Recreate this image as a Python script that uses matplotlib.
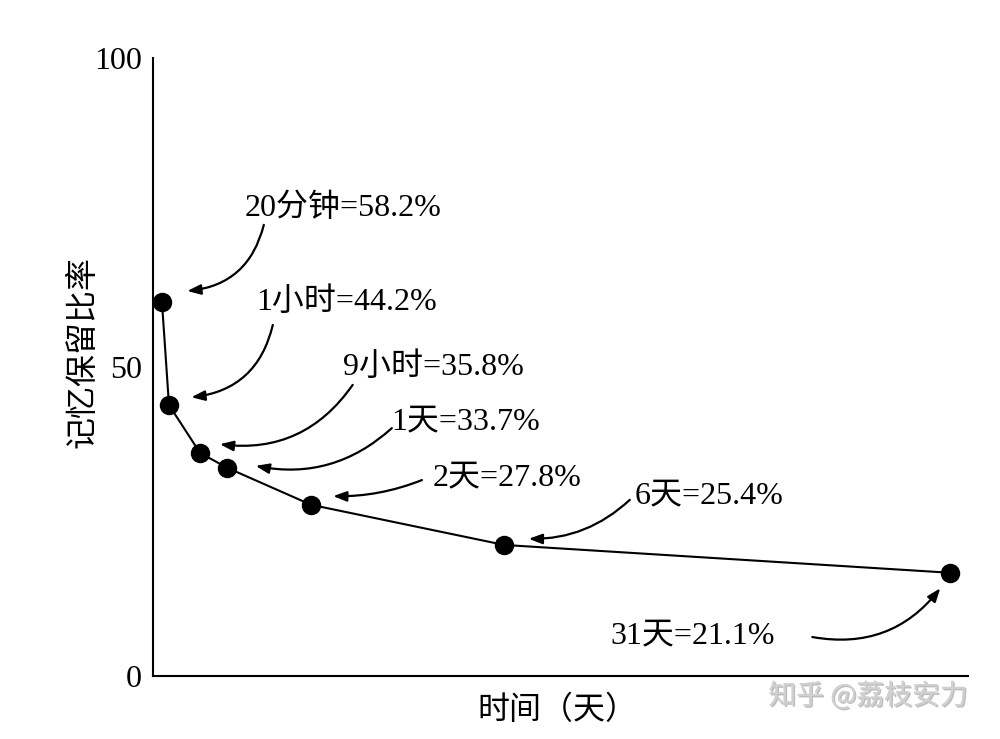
import matplotlib
matplotlib.use("Agg")
import matplotlib.pyplot as plt
import matplotlib.patheffects as pe

plt.rcParams['font.family'] = ['Liberation Serif', 'Noto Sans CJK SC', 'DejaVu Sans']

# points as drawn (schematic x scale, 0-100)
x_pos = [1.1, 1.96, 5.77, 9.08, 19.4, 43.1, 97.8]
y_pos = [60.5, 43.85, 36.1, 33.7, 27.7, 21.2, 16.7]
labels = ['20分钟=58.2%', '1小时=44.2%', '9小时=35.8%', '1天=33.7%',
          '2天=27.8%', '6天=25.4%', '31天=21.1%']
y_ticks = [0, 50, 100]

# label centre, arrow tail, arrow head (axes fraction), curvature
label_xy = [(0.233, 0.757), (0.238, 0.605), (0.344, 0.500), (0.383, 0.411),
            (0.434, 0.320), (0.682, 0.291), (0.662, 0.065)]
tail_xy = [(0.136, 0.730), (0.147, 0.568), (0.245, 0.471), (0.293, 0.401),
           (0.330, 0.317), (0.585, 0.285), (0.809, 0.063)]
head_xy = [(0.042, 0.623), (0.047, 0.451), (0.082, 0.375), (0.126, 0.340),
           (0.221, 0.291), (0.461, 0.222), (0.966, 0.142)]
rads = [-0.35, -0.35, -0.3, -0.25, -0.1, -0.2, 0.3]

fig = plt.figure(figsize=(10, 7.39), dpi=100)
ax = fig.add_axes([0.153, 0.0853, 0.815, 0.8362])

ax.plot(x_pos, y_pos, color='black', lw=1.5, marker='o', markersize=13,
        markerfacecolor='black', clip_on=False, zorder=3)

ax.set_xlim(0, 100)
ax.set_ylim(0, 100)
ax.set_yticks(y_ticks)
ax.set_yticklabels([str(t) for t in y_ticks], fontsize=23)
ax.set_xticks([])
ax.tick_params(axis='y', length=0, pad=8)
for s in ['top', 'right']:
    ax.spines[s].set_visible(False)
for s in ['left', 'bottom']:
    ax.spines[s].set_linewidth(1.5)

ax.set_ylabel('记忆保留比率', fontsize=23)
ax.yaxis.set_label_coords(-0.067, 0.524)
ax.set_xlabel('时间（天）', fontsize=23)
ax.xaxis.set_label_coords(0.496, -0.032)

for lab, lxy, t, h, r in zip(labels, label_xy, tail_xy, head_xy, rads):
    ax.text(lxy[0], lxy[1], lab, transform=ax.transAxes, fontsize=23,
            ha='center', va='center')
    ax.annotate('', xy=h, xycoords='axes fraction', xytext=t,
                textcoords='axes fraction',
                arrowprops=dict(arrowstyle='-|>,head_length=0.8,head_width=0.3',
                                connectionstyle='arc3,rad=%s' % r,
                                color='black', lw=1.6, shrinkA=0, shrinkB=0))

fig.text(0.868, 0.058, '知乎 @荔枝安力', fontsize=20, color='#d0d0d0',
         family=['Noto Sans CJK SC', 'DejaVu Sans'], ha='center', va='center',
         path_effects=[pe.withSimplePatchShadow(offset=(1, -1), shadow_rgbFace='#909090', alpha=0.6),
                       pe.Normal()])

fig.savefig('out.png', dpi=100)
